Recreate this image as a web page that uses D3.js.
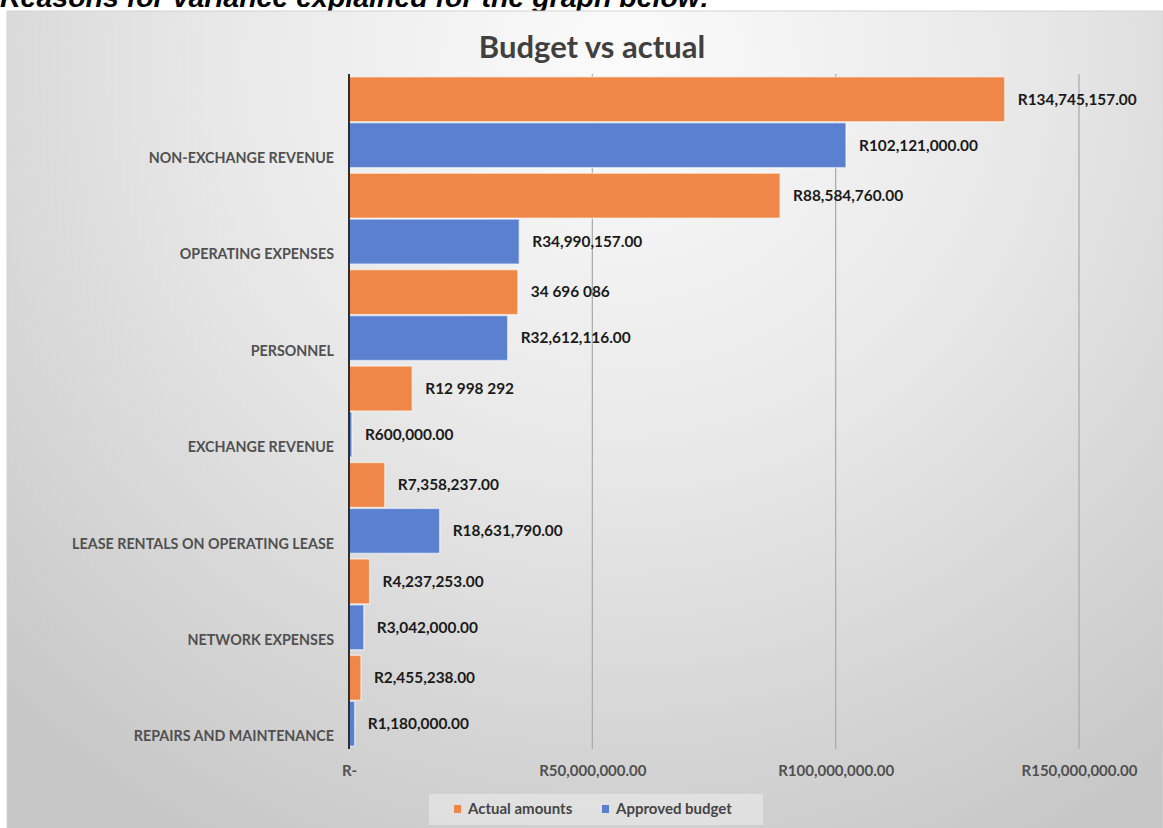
<!DOCTYPE html>
<html>
<head>
<meta charset="utf-8">
<script src="https://cdn.jsdelivr.net/npm/d3@7"></script>
<style>
  html, body { margin: 0; padding: 0; background: #ffffff; }
  svg { display: block; }
</style>
</head>
<body>
<svg id="chart" width="1163" height="828"></svg>
<script>
// Categories, top to bottom
const categories = [
  "NON-EXCHANGE REVENUE",
  "OPERATING EXPENSES",
  "PERSONNEL",
  "EXCHANGE REVENUE",
  "LEASE RENTALS ON OPERATING LEASE",
  "NETWORK EXPENSES",
  "REPAIRS AND MAINTENANCE"
];

// Series values (Rand)
const actualAmounts = [134745157, 88584760, 34696086, 12998292, 7358237, 4237253, 2455238];
const approvedBudget = [102121000, 34990157, 32612116, 600000, 18631790, 3042000, 1180000];

// Data labels as they are printed next to each bar
const actualLabels = ["R134,745,157.00", "R88,584,760.00", "34 696 086", "R12 998 292",
                      "R7,358,237.00", "R4,237,253.00", "R2,455,238.00"];
const budgetLabels = ["R102,121,000.00", "R34,990,157.00", "R32,612,116.00", "R600,000.00",
                      "R18,631,790.00", "R3,042,000.00", "R1,180,000.00"];

// Horizontal axis ticks
const tickValues = [0, 50000000, 100000000, 150000000];
const tickLabels = ["R-", "R50,000,000.00", "R100,000,000.00", "R150,000,000.00"];

const seriesNames = ["Actual amounts", "Approved budget"];
const seriesColors = ["#ee8747", "#5a80cf"];

const FONT = "Lato, 'Open Sans', sans-serif";

const svg = d3.select("#chart");
const defs = svg.append("defs");

// Soft grey chart-area fill
const bg = defs.append("radialGradient")
  .attr("id", "bgFill")
  .attr("gradientUnits", "userSpaceOnUse")
  .attr("cx", 620).attr("cy", 60).attr("r", 900)
  .attr("fx", 620).attr("fy", 60);
bg.append("stop").attr("offset", "0%").attr("stop-color", "#fbfbfb");
bg.append("stop").attr("offset", "45%").attr("stop-color", "#e8e8e8");
bg.append("stop").attr("offset", "100%").attr("stop-color", "#c6c6c6");

// Heading above the chart
svg.append("text")
  .attr("x", 0).attr("y", 7)
  .attr("font-family", "Liberation Sans, Arial, sans-serif")
  .attr("font-weight", "bold")
  .attr("font-style", "italic")
  .attr("font-size", 28.5)
  .attr("fill", "#000")
  .text("Reasons for variance explained for the graph below:");

// Chart area
svg.append("rect")
  .attr("x", 7).attr("y", 11)
  .attr("width", 1156).attr("height", 830)
  .attr("fill", "url(#bgFill)")
  .attr("stroke", "#d4d4d4")
  .attr("stroke-width", 1);

// Title
svg.append("text")
  .attr("x", 592).attr("y", 58)
  .attr("text-anchor", "middle")
  .attr("font-family", FONT)
  .attr("font-weight", "bold")
  .attr("font-size", 31)
  .attr("fill", "#404040")
  .text("Budget vs actual");

// Scales
const plotTop = 74, plotBottom = 749;
const x = d3.scaleLinear().domain([0, 150000000]).range([349, 1079]);
const y0 = d3.scaleBand().domain(categories).range([plotTop, plotBottom]).paddingInner(0).paddingOuter(0);
const y1 = d3.scaleBand().domain(seriesNames).range([0, y0.bandwidth()]).paddingInner(0.02).paddingOuter(0.06);

// Vertical gridlines
svg.append("g")
  .selectAll("line")
  .data(tickValues.slice(1))
  .join("line")
  .attr("x1", d => x(d)).attr("x2", d => x(d))
  .attr("y1", plotTop).attr("y2", plotBottom)
  .attr("stroke", "#a8a8a8")
  .attr("stroke-width", 1.2);

// Bars
const rows = categories.map((c, i) => ({
  category: c,
  values: [
    { series: seriesNames[0], value: actualAmounts[i], label: actualLabels[i], color: seriesColors[0] },
    { series: seriesNames[1], value: approvedBudget[i], label: budgetLabels[i], color: seriesColors[1] }
  ]
}));

const groups = svg.append("g")
  .selectAll("g")
  .data(rows)
  .join("g")
  .attr("transform", d => `translate(0,${y0(d.category)})`);

groups.selectAll("rect")
  .data(d => d.values)
  .join("rect")
  .attr("x", x(0))
  .attr("y", d => y1(d.series))
  .attr("width", d => x(d.value) - x(0))
  .attr("height", y1.bandwidth())
  .attr("fill", d => d.color)
  .attr("stroke", "#ffffff")
  .attr("stroke-opacity", 0.55)
  .attr("stroke-width", 1.5);

// Value labels
groups.selectAll("text")
  .data(d => d.values)
  .join("text")
  .attr("x", d => x(d.value) + 13)
  .attr("y", d => y1(d.series) + y1.bandwidth() / 2)
  .attr("dy", "0.35em")
  .attr("font-family", FONT)
  .attr("font-weight", "bold")
  .attr("font-size", 15.4)
  .attr("fill", "#1a1a1a")
  .text(d => d.label);

// Category labels
svg.append("g")
  .selectAll("text")
  .data(categories)
  .join("text")
  .attr("x", 334)
  .attr("y", d => y0(d) + y0.bandwidth() * 0.87)
  .attr("dy", "0.35em")
  .attr("text-anchor", "end")
  .attr("font-family", FONT)
  .attr("font-weight", "bold")
  .attr("font-size", 14.3)
  .attr("fill", "#505050")
  .text(d => d);

// Value axis
const xAxis = d3.axisBottom(x)
  .tickValues(tickValues)
  .tickFormat((d, i) => tickLabels[i])
  .tickSize(0)
  .tickPadding(16);

const ax = svg.append("g")
  .attr("transform", `translate(0,${plotBottom})`)
  .call(xAxis);
ax.select(".domain").remove();
ax.selectAll("text")
  .attr("font-family", FONT)
  .attr("font-weight", "bold")
  .attr("font-size", 15)
  .attr("fill", "#505050");

// Category axis line
svg.append("line")
  .attr("x1", x(0)).attr("x2", x(0))
  .attr("y1", plotTop).attr("y2", plotBottom)
  .attr("stroke", "#2e2e2e")
  .attr("stroke-width", 2);

// Legend
const legend = svg.append("g");
legend.append("rect")
  .attr("x", 429).attr("y", 794)
  .attr("width", 334).attr("height", 31)
  .attr("fill", "#ffffff")
  .attr("fill-opacity", 0.35);

const legendX = [454, 602];
const items = legend.selectAll("g")
  .data(seriesNames)
  .join("g")
  .attr("transform", (d, i) => `translate(${legendX[i]},0)`);
items.append("rect")
  .attr("x", 0).attr("y", 805)
  .attr("width", 7).attr("height", 8)
  .attr("fill", (d, i) => seriesColors[i]);
items.append("text")
  .attr("x", 14).attr("y", 809)
  .attr("dy", "0.35em")
  .attr("font-family", FONT)
  .attr("font-weight", "bold")
  .attr("font-size", 15)
  .attr("fill", "#454545")
  .text(d => d);
</script>
</body>
</html>
